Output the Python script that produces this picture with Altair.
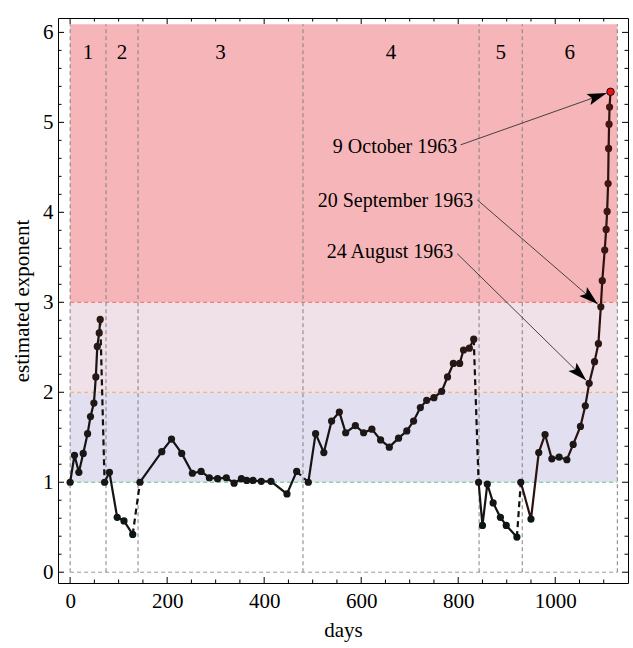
import math
import altair as alt
import pandas as pd

# ---- estimated exponent per observation window (day, value) ----
seg1_days = [0, 9, 18, 27, 36, 42, 49, 53, 56, 60, 62]
seg1_vals = [1.00, 1.30, 1.11, 1.32, 1.54, 1.73, 1.88, 2.17, 2.51, 2.66, 2.81]
seg2_days = [71, 81, 97, 111, 129]
seg2_vals = [1.00, 1.11, 0.61, 0.57, 0.42]
seg3_days = [144, 189, 209, 230, 252, 270, 287, 304, 322, 338, 353, 364, 377, 394, 414, 447, 467]
seg3_vals = [1.00, 1.34, 1.48, 1.32, 1.10, 1.12, 1.05, 1.04, 1.05, 0.99, 1.04, 1.02, 1.02,
             1.01, 1.01, 0.87, 1.12]
seg4_days = [491, 506, 523, 539, 555, 568, 588, 605, 622, 640, 658, 677, 694, 708, 722, 735,
             750, 766, 778, 790, 803, 811, 823, 832]
seg4_vals = [1.00, 1.54, 1.33, 1.68, 1.78, 1.55, 1.63, 1.55, 1.59, 1.47, 1.39, 1.49, 1.57,
             1.68, 1.83, 1.91, 1.94, 2.01, 2.17, 2.32, 2.32, 2.47, 2.49, 2.59]
seg5_days = [842, 850, 860, 872, 887, 899, 921]
seg5_vals = [1.00, 0.52, 0.98, 0.77, 0.61, 0.52, 0.39]
seg6_days = [929, 950, 966, 979, 993, 1008, 1024, 1037, 1052, 1062, 1070, 1081, 1089, 1094,
             1097, 1102, 1105, 1107, 1109, 1110, 1111, 1112, 1114]
seg6_vals = [1.00, 0.59, 1.33, 1.53, 1.26, 1.28, 1.25, 1.42, 1.62, 1.85, 2.10, 2.34, 2.54,
             2.95, 3.24, 3.58, 3.81, 4.01, 4.32, 4.71, 4.98, 5.17, 5.34]

# window boundaries (days) and their labels
boundaries = [0, 74, 140, 480, 843, 932, 1128]
window_labels = ["1", "2", "3", "4", "5", "6"]

# regime bands: lower, upper exponent and fill
band_lo = [1, 2, 3]
band_hi = [2, 3, 6.09]
band_fill = ["#e1dff0", "#f0e0e8", "#f6b6b9"]
# threshold lines
thresh_vals = [0, 1, 2, 3]
thresh_color = ["#9a9a9a", "#5cc686", "#f5a85a", "#ea6a6a"]

# dated annotations: text, anchor (day, value) of the text end, target (day, value)
note_text = ["9 October 1963", "20 September 1963", "24 August 1963"]
note_day = [798, 831, 790]
note_val = [4.73, 4.13, 3.56]
note_from_day = [805, 839, 798]
note_from_val = [4.75, 4.14, 3.54]
note_to_day = [1114, 1094, 1070]
note_to_val = [5.34, 2.95, 2.10]

# axis ticks
x_major = [0, 200, 400, 600, 800, 1000]
x_minor = list(range(0, 1150, 50))
y_major = [0, 1, 2, 3, 4, 5, 6]
y_minor = [round(0.2 * i, 1) for i in range(0, 31)]

# ---- layout ----
W, H = 570, 565
X_DOM = [-25, 1150]
Y_DOM = [-0.12, 6.16]
PX_X = W / (X_DOM[1] - X_DOM[0])
PX_Y = H / (Y_DOM[1] - Y_DOM[0])
FONT = "Liberation Serif"

segs = [seg1_days, seg2_days, seg3_days, seg4_days, seg5_days, seg6_days]
vals = [seg1_vals, seg2_vals, seg3_vals, seg4_vals, seg5_vals, seg6_vals]
rows = []
for k, (d, v) in enumerate(zip(segs, vals), start=1):
    for di, vi in zip(d, v):
        rows.append({"day": di, "value": vi, "seg": k})
series = pd.DataFrame(rows)

# dashed links between consecutive windows
links = []
for k in range(len(segs) - 1):
    links.append({"day": segs[k][-1], "value": vals[k][-1], "link": k})
    links.append({"day": segs[k + 1][0], "value": vals[k + 1][0], "link": k})
links = pd.DataFrame(links)

bands = pd.DataFrame({"lo": band_lo, "hi": band_hi, "fill": band_fill,
                      "x0": boundaries[0], "x1": boundaries[-1]})
thresh = pd.DataFrame({"y": thresh_vals, "c": thresh_color,
                       "x0": boundaries[0], "x1": boundaries[-1]})
vlines = pd.DataFrame({"x": boundaries, "y0": 0, "y1": band_hi[-1]})
wlab = pd.DataFrame({"x": [(boundaries[i] + boundaries[i + 1]) / 2 for i in range(6)],
                     "y": 5.77, "t": window_labels})

# arrows: shorten slightly in screen space, compute head rotation
arr = []
for fd, fv, td, tv in zip(note_from_day, note_from_val, note_to_day, note_to_val):
    dx = (td - fd) * PX_X
    dy = -(tv - fv) * PX_Y
    L = math.hypot(dx, dy)
    ux, uy = dx / L, dy / L
    gap = 4
    ed = td - gap * ux / PX_X
    ev = tv + gap * uy / PX_Y
    ang = math.degrees(math.atan2(dx, -dy)) % 360
    arr.append({"x1": fd, "y1": fv, "x2": ed, "y2": ev, "ang": ang})
arr = pd.DataFrame(arr)
notes = pd.DataFrame({"t": note_text, "x": note_day, "y": note_val})

xs = alt.Scale(domain=X_DOM, nice=False, zero=False)
ys = alt.Scale(domain=Y_DOM, nice=False, zero=False)
x_axis = alt.Axis(values=x_major, title="days", ticks=False, domain=False, grid=False,
                  format="d", labelFont=FONT, labelFontSize=21, labelColor="black",
                  labelPadding=7, titleFont=FONT, titleFontSize=21,
                  titleFontWeight="normal", titleColor="black", titlePadding=8)
y_axis = alt.Axis(values=y_major, title="estimated exponent", ticks=False, domain=False,
                  grid=False, format="d", labelFont=FONT, labelFontSize=21,
                  labelColor="black", labelPadding=5, titleFont=FONT, titleFontSize=21,
                  titleFontWeight="normal", titleColor="black", titlePadding=10)


def X(f):
    return alt.X(f, type="quantitative", scale=xs, axis=x_axis)


def Y(f):
    return alt.Y(f, type="quantitative", scale=ys, axis=y_axis)


layers = []
for i in range(3):
    layers.append(
        alt.Chart(bands.iloc[[i]]).mark_rect(color=band_fill[i])
        .encode(x=X("x0"), x2="x1", y=Y("lo"), y2="hi")
    )
for i in range(len(thresh_vals)):
    layers.append(
        alt.Chart(thresh.iloc[[i]]).mark_rule(color=thresh_color[i], strokeDash=[4, 3],
                                               strokeWidth=1)
        .encode(x=X("x0"), x2="x1", y=Y("y"))
    )
layers.append(
    alt.Chart(vlines).mark_rule(color="#808080", strokeDash=[4, 3], strokeWidth=1)
    .encode(x=X("x"), y=Y("y0"), y2="y1")
)
layers.append(
    alt.Chart(wlab).mark_text(font=FONT, fontSize=21, color="black", baseline="middle")
    .encode(x=X("x"), y=Y("y"), text="t")
)
layers.append(
    alt.Chart(links).mark_line(color="#111111", strokeWidth=2.2, strokeDash=[6, 4])
    .encode(x=X("day"), y=Y("value"), detail="link:N")
)
layers.append(
    alt.Chart(series).transform_filter("datum.seg < 6")
    .mark_line(color="#141414", strokeWidth=2.2)
    .encode(x=X("day"), y=Y("value"), detail="seg:N")
)
layers.append(
    alt.Chart(series).transform_filter("datum.seg == 6")
    .mark_line(color="#2a1210", strokeWidth=2.2)
    .encode(x=X("day"), y=Y("value"))
)
layers.append(
    alt.Chart(series.iloc[:-1]).mark_circle(size=52, opacity=1)
    .encode(x=X("day"), y=Y("value"),
            color=alt.Color("value:Q", scale=alt.Scale(domain=[1, 5.3],
                                                       range=["#161616", "#4a1410"]),
                            legend=None))
)
layers.append(
    alt.Chart(series.iloc[[-1]]).mark_point(shape="circle", size=56, filled=True,
                                            fill="#ee1111", stroke="#111111",
                                            strokeWidth=1, opacity=1)
    .encode(x=X("day"), y=Y("value"))
)
layers.append(
    alt.Chart(arr).mark_rule(color="#333333", strokeWidth=0.9)
    .encode(x=X("x1"), y=Y("y1"), x2="x2", y2="y2")
)
layers.append(
    alt.Chart(arr).mark_point(shape="M0,0 L0.3,1 L0,0.8 L-0.3,1 Z", size=1500,
                              filled=True, color="black", opacity=1)
    .encode(x=X("x2"), y=Y("y2"), angle=alt.Angle("ang:Q", scale=None))
)
layers.append(
    alt.Chart(notes).mark_text(font=FONT, fontSize=20, color="black", align="right",
                               baseline="middle")
    .encode(x=X("x"), y=Y("y"), text="t")
)

# inward frame ticks on all four sides
xt = pd.DataFrame({"x": x_minor, "major": [v in x_major for v in x_minor]})
yt = pd.DataFrame({"y": y_minor, "major": [abs(v - round(v)) < 1e-9 for v in y_minor]})
for major, ln in [(True, 6), (False, 3.5)]:
    xd = xt[xt["major"] == major]
    yd = yt[yt["major"] == major]
    layers.append(alt.Chart(xd).mark_rule(color="black", strokeWidth=1)
                  .encode(x=X("x"), y=alt.value(H), y2=alt.value(H - ln)))
    layers.append(alt.Chart(xd).mark_rule(color="black", strokeWidth=1)
                  .encode(x=X("x"), y=alt.value(0), y2=alt.value(ln)))
    layers.append(alt.Chart(yd).mark_rule(color="black", strokeWidth=1)
                  .encode(y=Y("y"), x=alt.value(0), x2=alt.value(ln)))
    layers.append(alt.Chart(yd).mark_rule(color="black", strokeWidth=1)
                  .encode(y=Y("y"), x=alt.value(W), x2=alt.value(W - ln)))

chart = (
    alt.layer(*layers)
    .properties(width=W, height=H,
                padding={"left": 58, "top": 18, "right": 5, "bottom": 65},
                autosize=alt.AutoSizeParams(type="none"), background="white")
    .configure_view(stroke="black", strokeWidth=1)
)

chart.save("out.html", embed_options={"renderer": "svg", "actions": False})
